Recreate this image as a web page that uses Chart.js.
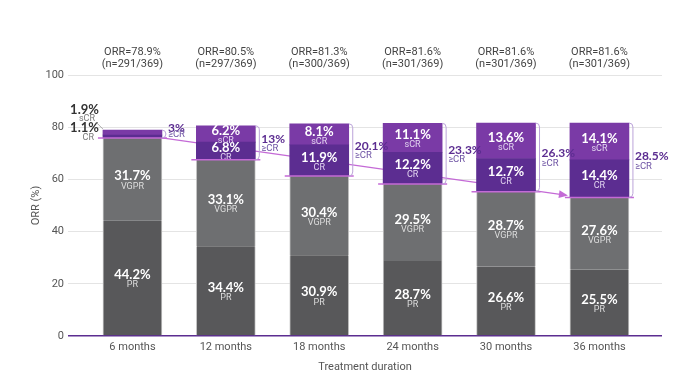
<!DOCTYPE html>
<html>
<head>
<meta charset="utf-8">
<script src="https://cdn.jsdelivr.net/npm/chart.js@4.4.1/dist/chart.umd.min.js"></script>
<style>
html,body{margin:0;padding:0;background:#fff;}
#wrap{width:690px;height:380px;position:relative;}
</style>
</head>
<body>
<div id="wrap"><canvas id="c" width="690" height="380"></canvas></div>
<script>
const categories = ['6 months','12 months','18 months','24 months','30 months','36 months'];
const prValues   = [44.2, 34.4, 30.9, 28.7, 26.6, 25.5];
const vgprValues = [31.7, 33.1, 30.4, 29.5, 28.7, 27.6];
const crValues   = [1.1, 6.8, 11.9, 12.2, 12.7, 14.4];
const scrValues  = [1.9, 6.2, 8.1, 11.1, 13.6, 14.1];
const geCrLabels = ['3%', '13%', '20.1%', '23.3%', '26.3%', '28.5%'];
const orrLabels  = ['ORR=78.9%', 'ORR=80.5%', 'ORR=81.3%', 'ORR=81.6%', 'ORR=81.6%', 'ORR=81.6%'];
const nLabels    = ['(n=291/369)', '(n=297/369)', '(n=300/369)', '(n=301/369)', '(n=301/369)', '(n=301/369)'];
const yTicks     = [0, 20, 40, 60, 80, 100];

const FONT = 'Roboto, "Noto Sans", sans-serif';
const BOLD = 'Lato, Roboto, sans-serif';
const PURPLE = '#5c2d91';
const SCR_COL = '#7a3aa6';
const LINE_COL = '#c46ad6';
const BRACKET_COL = '#bba3d9';

function pts(arr){ return arr.map((v,i)=>({x:i, y:v})); }

const seriesInfo = [
  {name:'PR',   values:prValues,   color:'#58585a'},
  {name:'VGPR', values:vgprValues, color:'#6e6f71'},
  {name:'CR',   values:crValues,   color:PURPLE},
  {name:'sCR',  values:scrValues,  color:SCR_COL}
];

const annot = {
  id:'annot',
  beforeDatasetsDraw(chart){
    const ctx = chart.ctx;
    const cr = chart.getDatasetMeta(2).data;
    const a = cr[0], b = cr[cr.length-1];
    const x1 = a.x + a.width/2, y1 = a.base;
    const x2 = b.x - b.width/2 - 2, y2 = b.base - 2;
    ctx.save();
    ctx.strokeStyle = LINE_COL; ctx.fillStyle = LINE_COL; ctx.lineWidth = 1.3;
    ctx.beginPath(); ctx.moveTo(x1,y1); ctx.lineTo(x2-6,y2 - (y2-y1)*6/(x2-x1)); ctx.stroke();
    const ang = Math.atan2(y2-y1, x2-x1);
    ctx.beginPath();
    ctx.moveTo(x2,y2);
    ctx.lineTo(x2 - 9*Math.cos(ang) + 4*Math.sin(ang), y2 - 9*Math.sin(ang) - 4*Math.cos(ang));
    ctx.lineTo(x2 - 9*Math.cos(ang) - 4*Math.sin(ang), y2 - 9*Math.sin(ang) + 4*Math.cos(ang));
    ctx.closePath(); ctx.fill();
    ctx.restore();
  },
  afterDatasetsDraw(chart){
    const ctx = chart.ctx;
    const xs = chart.scales.x;
    ctx.save();
    ctx.fillStyle = '#444'; ctx.textAlign = 'center'; ctx.textBaseline = 'middle';
    ctx.font = '11px ' + FONT;
    categories.forEach((c,i)=>{
      const x = xs.getPixelForValue(i);
      ctx.fillText(orrLabels[i], x, chart.chartArea.top - 23);
      ctx.fillText(nLabels[i], x, chart.chartArea.top - 11);
    });
    seriesInfo.forEach((s,di)=>{
      const meta = chart.getDatasetMeta(di);
      meta.data.forEach((el,i)=>{
        if (i === 0 && di >= 2) return;
        const cy = (el.y + el.base)/2;
        ctx.textAlign = 'center';
        ctx.fillStyle = '#ffffff';
        ctx.font = 'bold 13px ' + BOLD;
        ctx.fillText(s.values[i].toFixed(1) + '%', el.x, cy - 3);
        ctx.fillStyle = di >= 2 ? '#e2d4f0' : '#dedede';
        ctx.font = '9px ' + FONT;
        ctx.fillText(s.name, el.x, cy + 7);
      });
    });
    const cr0 = chart.getDatasetMeta(2).data[0];
    const sc0 = chart.getDatasetMeta(3).data[0];
    const left0 = cr0.x - cr0.width/2;
    ctx.textAlign = 'right';
    ctx.fillStyle = '#333'; ctx.font = 'bold 13px ' + BOLD;
    ctx.fillText(scrValues[0].toFixed(1) + '%', left0 - 4, sc0.y - 20);
    ctx.fillText(crValues[0].toFixed(1) + '%', left0 - 4, cr0.base - 10);
    ctx.fillStyle = '#777'; ctx.font = '9px ' + FONT;
    ctx.fillText('sCR', left0 - 8, sc0.y - 11);
    ctx.fillText('CR', left0 - 9, cr0.base);
    ctx.strokeStyle = '#999'; ctx.lineWidth = 0.8;
    ctx.beginPath(); ctx.moveTo(left0 - 7, sc0.y - 8); ctx.lineTo(left0, sc0.y - 1); ctx.stroke();
    const crEls = chart.getDatasetMeta(2).data;
    const scEls = chart.getDatasetMeta(3).data;
    crEls.forEach((el,i)=>{
      const l = el.x - el.width/2, r = el.x + el.width/2;
      ctx.strokeStyle = LINE_COL; ctx.lineWidth = 1.5;
      ctx.beginPath(); ctx.moveTo(i === 0 ? l - 5 : l - 5, el.base); ctx.lineTo(r + 5, el.base); ctx.stroke();
      const top = scEls[i].y, bot = el.base;
      const bx = r + 4;
      ctx.strokeStyle = BRACKET_COL; ctx.lineWidth = 1;
      ctx.beginPath();
      ctx.moveTo(r, top);
      ctx.quadraticCurveTo(bx, top, bx, top + 4);
      ctx.lineTo(bx, bot - 4);
      ctx.quadraticCurveTo(bx, bot, r, bot);
      ctx.stroke();
      const cy = (top + bot)/2;
      let py = cy - 4, sy = cy + 6;
      if (bot - top < 20) { py = top - 2; sy = cy + 1; }
      ctx.textAlign = 'left';
      ctx.fillStyle = PURPLE; ctx.font = 'bold 12px ' + BOLD;
      ctx.fillText(geCrLabels[i], r + 6, py);
      ctx.fillStyle = '#6d52a3'; ctx.font = '9.5px ' + FONT;
      ctx.fillText('\u2265CR', r + 6, sy);
    });
    ctx.restore();
  }
};

new Chart(document.getElementById('c'), {
  type:'bar',
  data:{
    datasets: seriesInfo.map((s,di)=>({
      label:s.name,
      data:pts(s.values),
      backgroundColor:s.color,
      borderColor: di < 2 ? '#c4c4c4' : s.color,
      borderWidth: di < 2 ? {left:1, right:1, top:0, bottom:0} : 0,
      borderSkipped:false,
      barThickness:59
    }))
  },
  options:{
    responsive:false,
    animation:false,
    layout:{padding:{left:0, right:28, top:75, bottom:0}},
    plugins:{legend:{display:false}, tooltip:{enabled:false}},
    scales:{
      x:{
        type:'linear', stacked:true, min:-0.69, max:5.67, offset:false,
        afterBuildTicks:(s)=>{ s.ticks = categories.map((c,i)=>({value:i})); },
        afterFit:(s)=>{ s.height = 44; },
        grid:{display:false, drawTicks:false, offset:false},
        border:{display:false},
        ticks:{ callback:(v)=>categories[v], color:'#555', font:{family:FONT, size:11}, padding:5, maxRotation:0, autoSkip:false },
        title:{display:true, text:'Treatment duration', color:'#555', font:{family:FONT, size:11}, padding:{top:0, bottom:6}}
      },
      y:{
        stacked:true, min:0, max:100,
        afterBuildTicks:(s)=>{ s.ticks = yTicks.map(v=>({value:v})); },
        afterFit:(s)=>{ s.width = 68; },
        grid:{ drawTicks:false, color:(c)=> c.tick && c.tick.value === 0 ? PURPLE : '#e4e4e4', lineWidth:(c)=> c.tick && c.tick.value === 0 ? 1.5 : 1 },
        border:{display:false},
        ticks:{ color:'#555', font:{family:FONT, size:11}, padding:4 },
        title:{display:true, text:'ORR (%)', color:'#555', font:{family:FONT, size:11}, padding:{top:30, bottom:0}}
      }
    }
  },
  plugins:[annot]
});
</script>
</body>
</html>
